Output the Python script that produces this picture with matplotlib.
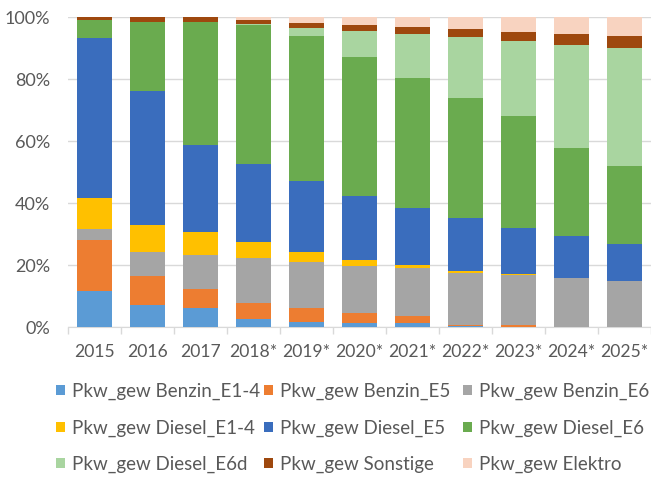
import matplotlib
matplotlib.use("Agg")
import matplotlib.pyplot as plt
import numpy as np

plt.rcParams['font.family'] = ['Lato', 'DejaVu Sans']

years = ["2015", "2016", "2017", "2018*", "2019*", "2020*", "2021*", "2022*", "2023*", "2024*", "2025*"]

series_names = ["Pkw_gew Benzin_E1-4", "Pkw_gew Benzin_E5", "Pkw_gew Benzin_E6",
                "Pkw_gew Diesel_E1-4", "Pkw_gew Diesel_E5", "Pkw_gew Diesel_E6",
                "Pkw_gew Diesel_E6d", "Pkw_gew Sonstige", "Pkw_gew Elektro"]

benzin_e14 = [11.6, 7.2, 6.1, 2.7, 1.6, 1.3, 1.3, 0.2, 0.0, 0.0, 0.0]
benzin_e5  = [16.4, 9.4, 6.3, 5.2, 4.6, 3.2, 2.4, 0.5, 0.5, 0.0, 0.0]
benzin_e6  = [3.5, 7.6, 10.8, 14.3, 14.8, 15.2, 15.4, 16.8, 16.3, 15.7, 14.8]
diesel_e14 = [10.0, 8.8, 7.6, 5.3, 3.2, 1.9, 0.8, 0.6, 0.2, 0.0, 0.0]
diesel_e5  = [51.7, 43.1, 28.0, 25.1, 23.0, 20.8, 18.5, 17.0, 14.9, 13.7, 12.1]
diesel_e6  = [5.7, 22.3, 39.6, 44.8, 46.7, 44.8, 42.0, 38.9, 36.1, 28.3, 25.0]
diesel_e6d = [0.0, 0.0, 0.0, 0.3, 2.4, 8.2, 14.1, 19.4, 24.1, 33.3, 38.0]
sonstige   = [1.1, 1.5, 1.6, 1.4, 1.8, 2.1, 2.3, 2.7, 3.1, 3.6, 4.0]
elektro    = [0.0, 0.1, 0.0, 0.9, 1.9, 2.5, 3.2, 3.9, 4.8, 5.4, 6.1]

values = [benzin_e14, benzin_e5, benzin_e6, diesel_e14, diesel_e5, diesel_e6,
          diesel_e6d, sonstige, elektro]
colors = ["#5B9BD5", "#ED7D31", "#A5A5A5", "#FFC000", "#3A6DBD", "#6AAB4F",
          "#A9D5A0", "#9E480E", "#F8D3C0"]

W, H = 651, 478
fig = plt.figure(figsize=(W / 100, H / 100), dpi=100)
ax = fig.add_axes([68 / W, (H - 327) / H, 583 / W, 310 / H])

x = np.arange(len(years))
bottom = np.zeros(len(years))
handles = []
for name, vals, c in zip(series_names, values, colors):
    v = np.array(vals)
    b = ax.bar(x, v, 0.66, bottom=bottom, color=c, label=name, zorder=3, linewidth=0)
    handles.append(b)
    bottom += v

FS = 13.5
TXT = "#595959"
ax.set_xlim(-0.5, len(years) - 0.5)
ax.set_ylim(0, 100)
ax.set_yticks([0, 20, 40, 60, 80, 100])
ax.set_yticklabels(["0%", "20%", "40%", "60%", "80%", "100%"], color=TXT, fontsize=13)
ax.yaxis.grid(True, color="#D9D9D9", linewidth=1, zorder=0)
ax.tick_params(axis='y', length=0, pad=13)

ax.set_xticks(x)
ax.set_xticklabels(years, color=TXT, fontsize=12.6)
ax.tick_params(axis='x', length=0, pad=12)
ax.set_xticks(np.arange(-0.5, len(years), 1), minor=True)
ax.tick_params(axis='x', which='minor', length=5, color="#D9D9D9", width=1)

for s in ["top", "right", "left"]:
    ax.spines[s].set_visible(False)
ax.spines["bottom"].set_color("#D9D9D9")

col_x = [56, 264, 463]
for ci, cx in enumerate(col_x):
    idx = [ci, ci + 3, ci + 6]
    fig.legend([handles[i] for i in idx], [series_names[i] for i in idx],
               ncol=1, loc="center left", bbox_to_anchor=(cx / W, (H - 428) / H),
               frameon=False, fontsize=FS, handlelength=0.48, handleheight=0.45,
               handletextpad=0.37, labelspacing=1.04, borderpad=0, borderaxespad=0,
               labelcolor=TXT)

fig.savefig("out.png", dpi=100)
